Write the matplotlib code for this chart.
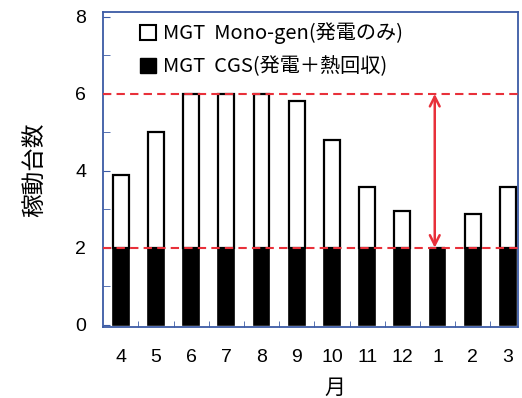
import matplotlib.pyplot as plt
from matplotlib.patches import Patch

plt.rcParams['font.family'] = ['Liberation Sans', 'Noto Sans CJK JP', 'DejaVu Sans']

months = ['4', '5', '6', '7', '8', '9', '10', '11', '12', '1', '2', '3']
cgs = [2, 2, 2, 2, 2, 2, 2, 2, 2, 2, 2, 2]  # 発電＋熱回収
mono = [1.88, 3.0, 4.0, 4.0, 4.0, 3.81, 2.79, 1.57, 0.95, 0.0, 0.87, 1.57]  # 発電のみ
low, high = 2, 6

spine_c = '#3b5ba5'
red = '#e8303a'

fig = plt.figure(figsize=(5.22, 3.98), dpi=100)
ax = fig.add_axes([0.197, 0.178, 0.795, 0.792])

x = list(range(len(months)))
ax.bar(x, cgs, width=0.45, color='black', edgecolor='black', linewidth=1.2)
ax.bar(x, mono, bottom=cgs, width=0.45, color='white', edgecolor='black', linewidth=1.6)

# 点線と矢印
ax.axhline(low, color=red, ls=(0, (4, 2.5)), lw=1.5, zorder=3)
ax.axhline(high, color=red, ls=(0, (4, 2.5)), lw=1.5, zorder=3)
ax.annotate('', xy=(8.92, low), xytext=(8.92, high),
            arrowprops=dict(arrowstyle='<->,head_length=0.7,head_width=0.35', color=red, lw=1.8,
                            shrinkA=0, shrinkB=0), zorder=4)

ax.set_xlim(-0.51, 11.28)
ax.set_ylim(-0.065, 8.13)
ax.set_yticks([0, 2, 4, 6, 8])
ax.set_yticks([1, 3, 5, 7], minor=True)
ax.set_xticks(x)
ax.set_xticklabels(months)
ax.set_xticks([i + 0.5 for i in x[:-1]], minor=True)
ax.tick_params(axis='x', which='major', length=0, labelsize=14, pad=16)
ax.tick_params(axis='x', which='minor', direction='in', length=4, color=spine_c)
ax.tick_params(axis='y', which='both', direction='in', length=5, color=spine_c, labelsize=14, pad=12)
for s in ax.spines.values():
    s.set_color(spine_c)
    s.set_linewidth(1.3)

ax.set_ylabel('稼動台数', fontsize=17, family=['Noto Sans CJK JP'])
ax.yaxis.set_label_coords(-0.135, 0.5)
ax.set_xlabel('月', fontsize=15, family=['Noto Sans CJK JP'])
ax.xaxis.set_label_coords(0.56, -0.158)

handles = [Patch(facecolor='white', edgecolor='black', lw=1.5),
           Patch(facecolor='black', edgecolor='black')]
labels = ['MGT  Mono-gen(発電のみ)', 'MGT  CGS(発電＋熱回収)']
ax.legend(handles, labels, loc='upper left', bbox_to_anchor=(0.06, 1.005), frameon=False,
          prop={'family': ['Noto Sans CJK JP'], 'size': 14.5}, handlelength=0.8, handleheight=0.8,
          handletextpad=0.35, labelspacing=0.6, borderaxespad=0.2)

fig.savefig('out.png', dpi=100)
